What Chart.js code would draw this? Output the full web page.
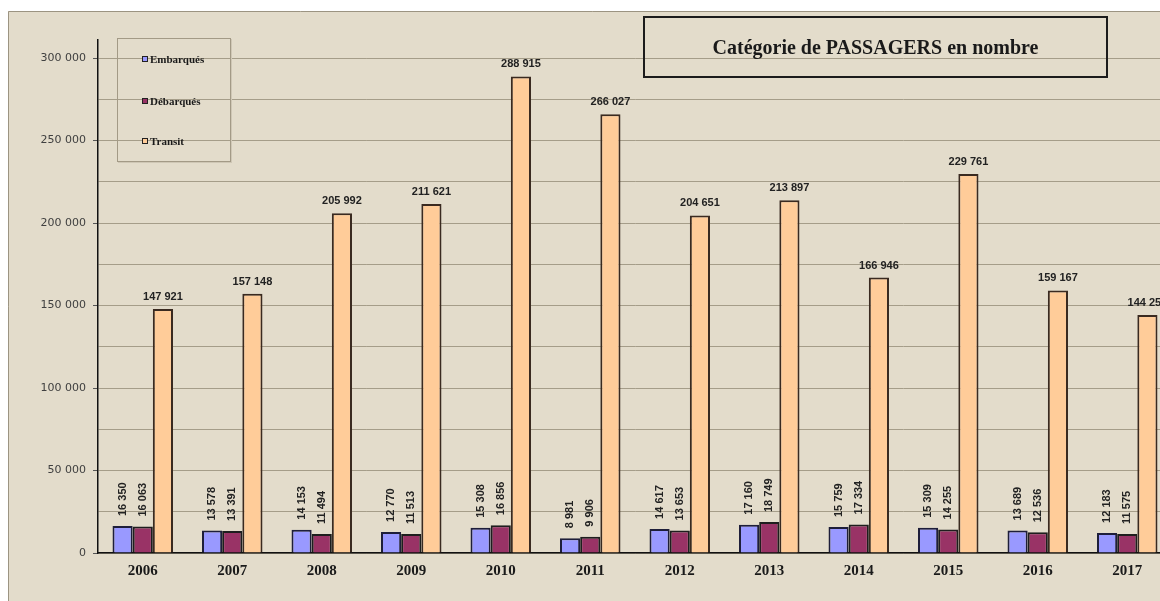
<!DOCTYPE html>
<html>
<head>
<meta charset="utf-8">
<script src="https://cdn.jsdelivr.net/npm/chart.js@4.4.1/dist/chart.umd.min.js"></script>
<style>
html,body{margin:0;padding:0;background:#fff;overflow:hidden;width:1160px;height:601px;}
#wrap{position:relative;width:1160px;height:601px;overflow:hidden;}
#chart{position:absolute;left:0;top:0;}
#title{position:absolute;left:643px;top:16px;width:461px;height:58px;border:2px solid #1c1c1c;display:flex;align-items:center;justify-content:center;font:bold 20px "Liberation Serif",serif;color:#1a1a1a;}
#legend{position:absolute;left:117px;top:38px;width:112px;height:122px;border:1px solid #a39a86;box-shadow:1px 1px 0 #cfc7b5;}
.item{position:absolute;left:24px;height:13px;line-height:13px;font:bold 11px "Liberation Serif",serif;color:#1a1a1a;display:flex;align-items:center;white-space:nowrap;}
.sw{width:4px;height:4px;border:1px solid #222;margin-right:2px;}
</style>
</head>
<body>
<div id="wrap">
  <canvas id="chart" width="1176" height="601"></canvas>
  <div id="title">Catégorie de PASSAGERS en nombre</div>
  <div id="legend"></div>
</div>
<script>
const years = ['2006','2007','2008','2009','2010','2011','2012','2013','2014','2015','2016','2017'];
const embarques = [16350, 13578, 14153, 12770, 15308, 8981, 14617, 17160, 15759, 15309, 13689, 12183];
const debarques = [16063, 13391, 11494, 11513, 16856, 9906, 13653, 18749, 17334, 14255, 12536, 11575];
const transit = [147921, 157148, 205992, 211621, 288915, 266027, 204651, 213897, 166946, 229761, 159167, 144250];
const seriesNames = ['Embarqués', 'Débarqués', 'Transit'];
const seriesColors = ['#9999ff', '#993366', '#ffcc99'];
const gridValues = [0, 25000, 50000, 75000, 100000, 125000, 150000, 175000, 200000, 225000, 250000, 275000, 300000];
const labelledTicks = [0, 50000, 100000, 150000, 200000, 250000, 300000];

const fmt = n => String(n).replace(/\B(?=(\d{3})+(?!\d))/g, ' ');

const bgPlugin = {
  id: 'bg',
  beforeDraw(c) {
    const ctx = c.ctx;
    ctx.save();
    ctx.fillStyle = '#ffffff';
    ctx.fillRect(0, 0, c.width, c.height);
    ctx.fillStyle = '#e3dccb';
    ctx.fillRect(8, 11, c.width - 8, c.height - 11);
    ctx.strokeStyle = '#9c9482';
    ctx.lineWidth = 1;
    ctx.beginPath();
    ctx.moveTo(8.5, c.height);
    ctx.lineTo(8.5, 11.5);
    ctx.lineTo(c.width, 11.5);
    ctx.stroke();
    ctx.restore();
  }
};

const labelPlugin = {
  id: 'valueLabels',
  afterDatasetsDraw(c) {
    const ctx = c.ctx;
    ctx.save();
    ctx.font = 'bold 11px "Liberation Sans", Arial, sans-serif';
    ctx.fillStyle = '#222222';
    c.data.datasets.forEach((ds, di) => {
      const meta = c.getDatasetMeta(di);
      meta.data.forEach((el, i) => {
        const txt = fmt(ds.data[i]);
        if (di === 2) {
          ctx.textAlign = 'center';
          ctx.textBaseline = 'alphabetic';
          ctx.fillText(txt, el.x, el.y - 9);
        } else {
          ctx.save();
          ctx.translate(el.x, el.y - 10);
          ctx.rotate(-Math.PI / 2);
          ctx.textAlign = 'left';
          ctx.textBaseline = 'middle';
          ctx.fillText(txt, 0, 0);
          ctx.restore();
        }
      });
    });
    ctx.restore();
  }
};

Chart.defaults.font.family = '"DejaVu Sans", sans-serif';

const chart = new Chart(document.getElementById('chart'), {
  type: 'bar',
  data: {
    labels: years,
    datasets: [
      { label: seriesNames[0], data: embarques, backgroundColor: seriesColors[0], borderColor: '#1e1e3a', borderWidth: 2 },
      { label: seriesNames[1], data: debarques, backgroundColor: seriesColors[1], borderColor: '#1e1e1e', borderWidth: 2 },
      { label: seriesNames[2], data: transit, backgroundColor: seriesColors[2], borderColor: '#3a2a20', borderWidth: 2 }
    ]
  },
  options: {
    responsive: false,
    animation: false,
    devicePixelRatio: 1,
    layout: { padding: { top: 40, right: 4, bottom: 0, left: 0 } },
    datasets: { bar: { categoryPercentage: 0.676, barPercentage: 1 } },
    plugins: { legend: { display: false }, title: { display: false }, tooltip: { enabled: false } },
    scales: {
      x: {
        grid: { display: true, color: 'rgba(0,0,0,0)', drawTicks: false },
        border: { display: true, color: '#111111', width: 1.5 },
        ticks: { color: '#1a1a1a', font: { family: '"Liberation Serif", serif', size: 15, weight: 'bold' }, padding: 9, maxRotation: 0 },
        afterFit(s) { s.height = 48; }
      },
      y: {
        min: 0,
        max: 311000,
        afterBuildTicks(s) { s.ticks = gridValues.map(v => ({ value: v })); },
        grid: {
          color: '#a59d89',
          lineWidth: 1,
          tickLength: 5,
          tickColor: ctx => (ctx.tick && labelledTicks.includes(ctx.tick.value)) ? '#555555' : 'rgba(0,0,0,0)'
        },
        border: { display: true, color: '#111111', width: 1.5 },
        ticks: {
          padding: 7,
          color: '#404040',
          font: { size: 11 },
          callback: v => (labelledTicks.includes(v) ? fmt(v) : '')
        },
        afterFit(s) { s.width = 98; }
      }
    }
  },
  plugins: [bgPlugin, labelPlugin]
});

// HTML legend built from the chart datasets
const legend = document.getElementById('legend');
const tops = [13, 55, 95];
chart.data.datasets.forEach((ds, i) => {
  const it = document.createElement('div');
  it.className = 'item';
  it.style.top = tops[i] + 'px';
  const sw = document.createElement('span');
  sw.className = 'sw';
  sw.style.background = ds.backgroundColor;
  it.appendChild(sw);
  it.appendChild(document.createTextNode(ds.label));
  legend.appendChild(it);
});
</script>
</body>
</html>
